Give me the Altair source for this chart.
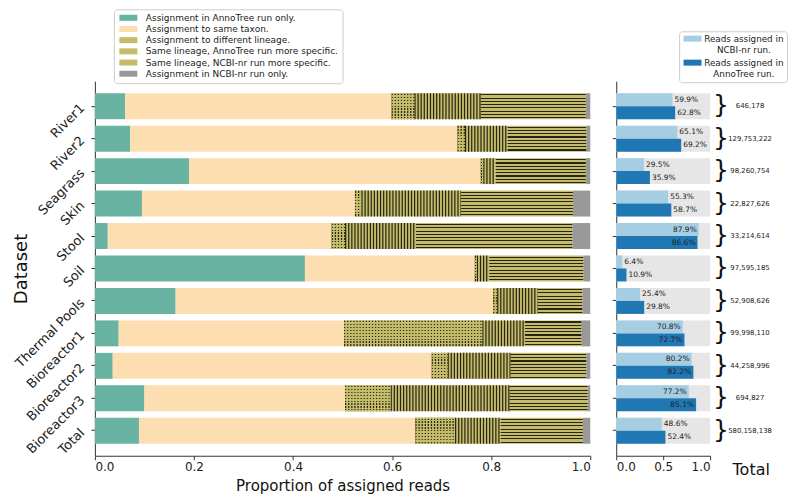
import altair as alt
import pandas as pd

datasets = ["River1", "River2", "Seagrass", "Skin", "Stool", "Soil", "Thermal Pools",
            "Bioreactor1", "Bioreactor2", "Bioreactor3", "Total"]
categories = ["Assignment in AnnoTree run only.", "Assignment to same taxon.",
              "Assignment to different lineage.", "Same lineage, AnnoTree run more specific.",
              "Same lineage, NCBI-nr run more specific.", "Assignment in NCBI-nr run only."]
annotree_only = [0.061, 0.071, 0.190, 0.095, 0.026, 0.424, 0.163, 0.048, 0.036, 0.100, 0.089]
same_taxon = [0.538, 0.661, 0.589, 0.430, 0.452, 0.343, 0.641, 0.455, 0.644, 0.405, 0.558]
diff_lineage = [0.046, 0.015, 0.005, 0.013, 0.027, 0.004, 0.008, 0.279, 0.032, 0.092, 0.080]
annotree_specific = [0.134, 0.086, 0.025, 0.201, 0.143, 0.025, 0.082, 0.086, 0.127, 0.240, 0.092]
ncbi_specific = [0.212, 0.159, 0.182, 0.226, 0.316, 0.190, 0.090, 0.114, 0.153, 0.158, 0.166]
ncbi_only = [0.009, 0.008, 0.009, 0.035, 0.036, 0.014, 0.016, 0.018, 0.008, 0.005, 0.015]

runs = ["Reads assigned in|NCBI-nr run.", "Reads assigned in|AnnoTree run."]
ncbi_pct = [0.599, 0.651, 0.295, 0.553, 0.879, 0.064, 0.254, 0.708, 0.802, 0.772, 0.486]
annotree_pct = [0.628, 0.692, 0.359, 0.587, 0.866, 0.109, 0.298, 0.727, 0.822, 0.851, 0.524]
totals = [646178, 129753222, 98260754, 22827626, 33214614, 97595185, 52908626,
          99998110, 44258996, 694827, 580158138]

cat_colors = ["#69b3a2", "#fddeb0", "#c4bb6b", "#c4bb6b", "#c4bb6b", "#999999"]
run_colors = ["#a6cee3", "#1f78b4"]
FONT = "DejaVu Sans"
HATCH = "#262612"
KHAKI = "#c4bb6b"

# ---------- data tables ----------
series = [annotree_only, same_taxon, diff_lineage, annotree_specific, ncbi_specific, ncbi_only]
rows = []
for ci, (cat, vals) in enumerate(zip(categories, series)):
    for d, v in zip(datasets, vals):
        rows.append({"dataset": d, "category": cat, "order": ci, "value": v})
seg_df = pd.DataFrame(rows)

rt_df = pd.DataFrame({
    "dataset": datasets * 2,
    "run": [runs[0]] * len(datasets) + [runs[1]] * len(datasets),
    "value": ncbi_pct + annotree_pct,
})
tot_df = pd.DataFrame({"dataset": datasets, "total": totals})

# ---------- geometry ----------
H = 375
LW = 496
RW = 94
P_IN, P_OUT = 0.2, 0.37
step = H / (len(datasets) - P_IN + 2 * P_OUT)
band = step * (1 - P_IN)

yscale = alt.Scale(domain=datasets, paddingInner=P_IN, paddingOuter=P_OUT)

# hatch gradients (pure styling)
def stripes(n, on, off, half=0.02):
    stops = [{"offset": 0, "color": off}]
    for k in range(n):
        c = (k + 0.5) / n
        stops += [{"offset": c - half, "color": off}, {"offset": c - half, "color": on},
                  {"offset": c + half, "color": on}, {"offset": c + half, "color": off}]
    stops.append({"offset": 1, "color": off})
    return {"gradient": "linear", "x1": 0, "y1": 0, "x2": 0, "y2": 1, "stops": stops}

h_stripes = stripes(8, HATCH, "rgba(0,0,0,0)", 0.021)
dot_mask = stripes(9, "rgba(0,0,0,0)", KHAKI, 0.025)

# ---------- left panel ----------
yenc = alt.Y("dataset:N", scale=yscale, title="Dataset",
             axis=alt.Axis(labelAngle=-45, labelAlign="right", labelBaseline="middle",
                           labelFontSize=13, labelPadding=9, tickSize=4,
                           titleFontSize=18, titleX=-64, titleY=H / 2))
xenc = alt.X("x0:Q", scale=alt.Scale(domain=[0, 1], nice=False),
             title="Proportion of assigned reads",
             axis=alt.Axis(values=[0, 0.2, 0.4, 0.6, 0.8, 1.0], format=".1f",
                           labelFontSize=12, tickSize=4, titleFontSize=15, titlePadding=6))

base = alt.Chart(seg_df).transform_stack(
    stack="value", groupby=["dataset"], as_=["x0", "x1"],
    sort=[alt.SortField("order", order="ascending")]
).encode(y=yenc, x=xenc, x2="x1:Q")

bars = base.mark_bar().encode(
    color=alt.Color("category:N",
                    scale=alt.Scale(domain=categories, range=cat_colors),
                    legend=alt.Legend(orient="none", legendX=19, legendY=-72, title=None,
                                      labelFontSize=9, labelFont=FONT, labelLimit=400,
                                      symbolType="M-1,-1H5V1H-1Z", symbolSize=36,
                                      symbolStrokeWidth=0, labelOffset=19,
                                      rowPadding=1.2, padding=4,
                                      fillColor="white", strokeColor="#cccccc",
                                      cornerRadius=3))
)

vlines = base.transform_filter(
    alt.FieldOneOfPredicate(field="category", oneOf=[categories[2], categories[3]])
).mark_rule(strokeWidth=band, strokeDash=[1.2, 1.9], color=HATCH)

hlines = base.transform_filter(
    alt.FieldEqualPredicate(field="category", equal=categories[4])
).mark_bar(fill=h_stripes)

dots = base.transform_filter(
    alt.FieldEqualPredicate(field="category", equal=categories[2])
).mark_bar(fill=dot_mask)

left = alt.layer(bars, vlines, hlines, dots).properties(width=LW, height=H)

# ---------- right panel ----------
ry = alt.Y("dataset:N", scale=yscale, title=None,
           axis=alt.Axis(labels=False, ticks=True, tickSize=4))
rxscale = alt.Scale(domain=[0, 1], nice=False)
rxaxis = alt.Axis(values=[0, 0.5, 1.0], format=".1f", labelFontSize=12, tickSize=4,
                  title="Total", titleFontSize=16, titleX=RW + 22, titleY=14,
                  titleAlign="left", titleBaseline="middle")
yoff = alt.YOffset("run:N", scale=alt.Scale(domain=runs, paddingInner=0, paddingOuter=0))

bg = alt.Chart(tot_df).mark_bar(color="#e6e6e6").encode(
    y=ry,
    x=alt.X(datum=0, type="quantitative", scale=rxscale, axis=rxaxis),
    x2=alt.X2(datum=1),
)

rbars = alt.Chart(rt_df).mark_bar().encode(
    y=ry, yOffset=yoff,
    x=alt.X("value:Q", scale=rxscale, axis=rxaxis),
    color=alt.Color("run:N", scale=alt.Scale(domain=runs, range=run_colors),
                    legend=alt.Legend(orient="none", legendX=63, legendY=-50, title=None,
                                      labelFontSize=8.8, labelFont=FONT,
                                      labelExpr="split(datum.label, '|')",
                                      labelAlign="center", labelOffset=53, labelLimit=200,
                                      symbolType="M-1,-1H5V1H-1Z", symbolSize=36,
                                      symbolStrokeWidth=0, rowPadding=3, padding=3,
                                      fillColor="white", strokeColor="#cccccc",
                                      cornerRadius=3)),
)

txt_in = alt.Chart(rt_df).transform_filter("datum.value > 0.7").mark_text(
    align="right", baseline="middle", dx=-2, fontSize=7.5, font=FONT, color="#222222"
).encode(y=ry, yOffset=yoff, x=alt.X("value:Q", scale=rxscale, axis=rxaxis),
         text=alt.Text("value:Q", format=".1%"))

txt_out = alt.Chart(rt_df).transform_filter("datum.value <= 0.7").mark_text(
    align="left", baseline="middle", dx=2, fontSize=7.5, font=FONT, color="#222222"
).encode(y=ry, yOffset=yoff, x=alt.X("value:Q", scale=rxscale, axis=rxaxis),
         text=alt.Text("value:Q", format=".1%"))

brace = alt.Chart(tot_df).mark_text(
    text="}", align="left", baseline="middle", dx=3, dy=-1, fontSize=25, font=FONT,
    color="#111111"
).encode(y=ry, x=alt.X(datum=1, type="quantitative", scale=rxscale, axis=rxaxis))

tot_txt = alt.Chart(tot_df).mark_text(
    align="center", baseline="middle", dx=40, fontSize=6.9, font=FONT, color="#222222"
).encode(y=ry, x=alt.X(datum=1, type="quantitative", scale=rxscale, axis=rxaxis),
         text=alt.Text("total:Q", format=","))

right = alt.layer(bg, rbars, txt_in, txt_out, brace, tot_txt).properties(width=RW, height=H)

chart = alt.hconcat(left, right, spacing=26, bounds="flush").resolve_scale(
    color="independent", y="independent"
).resolve_legend(color="independent").properties(
    padding={"left": 5, "top": 0, "right": 0, "bottom": 0}
).configure(
    style={"guide-label": {"lineHeight": 11.5}}
).configure_view(stroke=None).configure_axis(
    grid=False, domainColor="#333333", tickColor="#333333", labelColor="#222222",
    titleColor="#111111", labelFont=FONT, titleFont=FONT, titleFontWeight="normal"
).configure_legend(labelColor="#222222")

chart.save("out.html", embed_options={"renderer": "svg", "actions": False})
